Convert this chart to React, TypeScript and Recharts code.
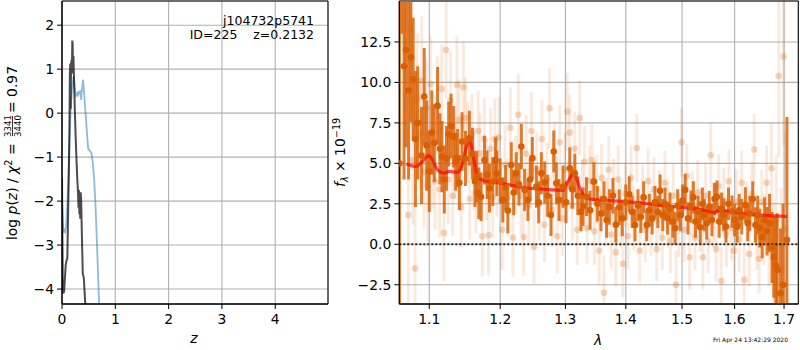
import React from 'react'
import {
  LineChart,
  ComposedChart,
  Line,
  Scatter,
  ErrorBar,
  XAxis,
  YAxis,
  CartesianGrid,
  ReferenceArea,
  ReferenceLine,
} from 'recharts'

const FONT = '"DejaVu Sans", sans-serif'
const ORANGE = '#d95f02'

// ---- left panel: log p(z) ----
const zTicks = [0, 1, 2, 3, 4]
const pTicks = [-4, -3, -2, -1, 0, 1, 2]

const blueZ = [0.0, 0.01, 0.025, 0.04, 0.06, 0.075, 0.09, 0.105, 0.12, 0.135, 0.15, 0.17, 0.195, 0.22, 0.24, 0.26, 0.28, 0.3, 0.315, 0.33, 0.345, 0.36, 0.38, 0.395, 0.41, 0.43, 0.46, 0.49, 0.52, 0.55, 0.575, 0.6, 0.625, 0.66, 0.695, 0.72]
const blueLogP = [-1.95, -2.3, -2.72, -2.65, -2.7, -2.6, -2.3, -1.95, -1.5, -0.9, -0.3, 0.25, 0.65, 0.83, 0.55, 0.4, 0.45, 0.38, 0.5, 0.42, 0.52, 0.3, 0.6, 0.76, 0.55, 0.2, -0.3, -0.8, -0.86, -0.9, -1.1, -1.45, -2.0, -3.1, -4.3, -5.0]

const darkZ = [0.0, 0.008, 0.016, 0.025, 0.04, 0.055, 0.07, 0.085, 0.1, 0.11, 0.12, 0.13, 0.14, 0.148, 0.155, 0.162, 0.17, 0.178, 0.186, 0.193, 0.2, 0.207, 0.215, 0.225, 0.24, 0.255, 0.27, 0.285, 0.3, 0.31, 0.318, 0.326, 0.334, 0.342, 0.35, 0.36, 0.375, 0.39, 0.41, 0.43, 0.45]
const darkLogP = [-1.5, -2.9, -4.0, -4.1, -4.05, -3.75, -3.45, -3.35, -3.3, -2.6, -1.9, -1.2, -0.3, 0.9, 1.12, 0.1, 1.1, 1.2, 0.9, 1.65, 1.6, 1.0, 1.3, 0.8, 0.1, -0.5, -1.0, -1.45, -1.8, -2.15, -1.75, -2.3, -1.85, -2.4, -1.8, -2.0, -2.9, -3.65, -3.75, -4.2, -4.6]

// ---- right panel: spectrum ----
const lamTicks = [1.1, 1.2, 1.3, 1.4, 1.5, 1.6, 1.7]
const fluxTicks = [-2.5, 0, 2.5, 5, 7.5, 10, 12.5]

// faint points
const lightLam = [
  1.072, 1.075, 1.078, 1.081, 1.084, 1.087, 1.09, 1.093, 1.096, 1.098,
  1.102, 1.105, 1.108, 1.111, 1.114, 1.117, 1.12, 1.123, 1.126, 1.129, 1.132, 1.135, 1.138, 1.141, 1.144, 1.147, 1.15, 1.153,
  1.156, 1.159, 1.162, 1.165, 1.168, 1.171, 1.174, 1.177, 1.18, 1.183, 1.186, 1.189, 1.192, 1.195, 1.198,
  1.203, 1.207, 1.211, 1.215, 1.219, 1.223, 1.227, 1.231, 1.235, 1.239, 1.243, 1.247, 1.251, 1.255, 1.259, 1.263, 1.267, 1.271, 1.275, 1.279, 1.283, 1.287, 1.291, 1.295, 1.299,
  1.303, 1.307, 1.311, 1.315, 1.319, 1.323, 1.327, 1.331, 1.335, 1.339, 1.343, 1.347, 1.351, 1.355, 1.359, 1.363, 1.367, 1.371, 1.375, 1.379, 1.383, 1.387, 1.391, 1.395, 1.399,
  1.404, 1.409, 1.414, 1.419, 1.424, 1.429, 1.434, 1.439, 1.444, 1.449, 1.454, 1.459, 1.464, 1.469, 1.474, 1.479, 1.484, 1.489, 1.494, 1.499,
  1.504, 1.509, 1.514, 1.519, 1.524, 1.529, 1.534, 1.539, 1.544, 1.549, 1.554, 1.559, 1.564, 1.569, 1.574, 1.579, 1.584, 1.589, 1.594, 1.599,
  1.604, 1.609, 1.614, 1.619, 1.624, 1.629, 1.634, 1.639, 1.644, 1.649, 1.654, 1.659, 1.664, 1.669, 1.674, 1.679, 1.684, 1.689, 1.694, 1.699, 1.703,
]
const lightFlux = [
  1.8, 13.2, 5.2, -1.5, 9.0, 6.8, 10.1, 4.5, 8.4, 3.6,
  9.9, 5.2, 3.9, 8.6, 3.4, 9.6, 0.7, 12.0, 4.0, 8.9, 3.0, 5.3, 9.85, 7.7, 2.3, 9.7, 7.8, 6.3,
  2.8, 6.8, 4.6, 3.2, 7.0, 5.6, 0.5, 6.5, 4.0, 0.55, 5.9, 2.9, 6.5, 4.2, 6.6,
  0.9, 4.9, 2.9, 7.2, 0.4, 4.3, 8.0, 3.0, 0.45, 5.6, 2.4, 7.0, -0.15, 4.6, 2.5, 6.5, 1.2, 4.0, 8.4, 2.1, 5.3, 0.5, 6.3, 1.6, 4.6,
  8.2, 6.9, 2.4, 5.9, 0.9, 7.8, 3.0, 5.1, 1.0, 3.9, 5.2, 0.8, 3.4, -0.4, 4.1, -3.0, 2.0, 4.6, 0.6, 3.2, -0.5, 4.0, 1.8, -1.2, 3.1,
  0.5, 4.1, 1.6, 5.95, -0.4, 2.9, 0.9, 3.9, 1.3, 3.4, -0.3, 2.6, 0.4, 3.8, 1.8, 0.2, 3.0, -2.5, 1.2, 6.3,
  0.9, 4.2, -0.8, 2.5, 0.4, 3.2, 1.5, -0.8, 3.0, 0.2, 5.5, 1.8, -0.3, 3.6, -2.27, 2.7, 0.6, 3.9, 1.0, -0.4,
  2.6, 0.3, 3.8, -2.2, 1.9, -0.6, 3.1, 5.85, 0.4, -0.9, 2.6, 0.9, 3.8, -0.2, 4.7, -0.6, 1.5, 10.4, -1.5, 11.6, 0.9,
]
const lightErr = [
  5.5, 5, 4, 4, 4, 3.5, 4, 3.5, 3, 3.5,
  3, 3, 3, 3, 3, 2.8, 3, 3, 2.8, 3, 2.5, 2.5, 3, 2.5, 2.5, 2.8, 2.5, 2.5,
  2.5, 2.5, 2.5, 2.5, 2.5, 2.5, 2.5, 2.5, 2.5, 2.5, 2.5, 2.5, 2.5, 2.5, 2.5,
  2.5, 2.5, 2.4, 2.5, 2.4, 2.4, 2.5, 2.4, 2.4, 2.4, 2.3, 2.4, 2.3, 2.3, 2.3, 2.4, 2.3, 2.3, 2.5, 2.3, 2.3, 2.3, 2.3, 2.3, 2.3,
  2.4, 2.3, 2.2, 2.3, 2.2, 2.3, 2.2, 2.2, 2.2, 2.2, 2.2, 2.1, 2.1, 2.1, 2.1, 2.3, 2.1, 2.1, 2.1, 2.1, 2.1, 2.1, 2.0, 2.1, 2.0,
  2.0, 2.0, 2.0, 2.1, 2.0, 2.0, 2.0, 2.0, 2.0, 2.0, 2.0, 2.0, 2.0, 2.0, 2.0, 2.0, 2.0, 2.1, 2.0, 2.1,
  2.0, 2.0, 2.0, 2.0, 2.0, 2.0, 2.0, 2.0, 2.0, 2.0, 2.0, 2.0, 2.0, 2.0, 2.1, 2.0, 2.0, 2.0, 2.0, 2.0,
  2.0, 2.0, 2.0, 2.1, 2.0, 2.0, 2.0, 2.2, 2.0, 2.1, 2.0, 2.2, 2.3, 2.4, 2.8, 3.2, 4, 5, 5, 5.5, 6,
]

// binned points
const darkLam = [
  1.0605, 1.0635, 1.0665, 1.069, 1.0725, 1.0755, 1.0785, 1.0815, 1.0845, 1.0896, 1.0932, 1.0965,
  1.1, 1.1035, 1.1068, 1.1113, 1.1145, 1.1173, 1.1205, 1.1235, 1.1265, 1.1298, 1.1334, 1.1362, 1.139, 1.1414, 1.1452, 1.15, 1.1555,
  1.16, 1.1635, 1.166, 1.1689, 1.1723, 1.1771, 1.181, 1.1844, 1.1892, 1.1932, 1.1951,
  1.2, 1.204, 1.208, 1.2114, 1.2165, 1.22, 1.224, 1.228, 1.2316, 1.2365, 1.2416, 1.245, 1.2483, 1.2545, 1.258, 1.2622, 1.2674, 1.272, 1.2772, 1.2815, 1.2857, 1.2899, 1.2962,
  1.301, 1.307, 1.311, 1.3151, 1.32, 1.325, 1.3286, 1.3341, 1.34, 1.3462, 1.352, 1.358, 1.363, 1.3674, 1.372, 1.378, 1.383, 1.3888, 1.394,
  1.4, 1.406, 1.411, 1.4159, 1.421, 1.426, 1.431, 1.4365, 1.441, 1.446, 1.451, 1.456, 1.4602, 1.465, 1.469, 1.4734, 1.478, 1.483, 1.4874, 1.492, 1.497,
  1.501, 1.5058, 1.511, 1.5164, 1.521, 1.525, 1.53, 1.5339, 1.538, 1.5415, 1.546, 1.551, 1.556, 1.561, 1.5658, 1.57, 1.5745, 1.5786, 1.583, 1.588, 1.595,
  1.6, 1.6048, 1.609, 1.614, 1.6213, 1.626, 1.63, 1.636, 1.6414, 1.646, 1.65, 1.655, 1.66, 1.665, 1.67, 1.675, 1.6788, 1.683, 1.6858, 1.6927, 1.698, 1.706,
]
const darkFlux = [
  5, 17, 11, 12, 9.5, 11.56, 10.2, 6.5, 7.5, 5.48, 9.13, 6.1,
  4.5, 6.9, 6.25, 8.55, 5.9, 5.42, 4.0, 5.3, 6.8, 7.3, 6.65, 5.1, 5.32, 3.8, 6.35, 5.3, 6.55,
  5.6, 3.9, 4.18, 3.15, 2.94, 5.2, 4.3, 3.46, 3.87, 5.2, 4.39,
  3.9, 2.74, 3.5, 2.08, 4.9, 3.2, 4.39, 3.7, 6.04, 3.36, 2.74, 4.0, 5.32, 3.56, 2.6, 4.39, 3.81, 3.0, 1.81, 5.73, 3.77, 2.74, 3.56,
  2.6, 4.7, 3.4, 4.39, 3.0, 2.0, 2.33, 2.94, 2.1, 3.87, 2.5, 1.9, 2.8, 1.5, 2.3, 3.0, 1.2, 2.29, 1.6,
  2.6, 3.09, 2.0, 1.19, 2.4, 1.7, 2.9, 1.19, 2.1, 1.6, 2.6, 2.0, 3.31, 1.8, 2.5, 1.61, 2.2, 1.4, 0.99, 2.4, 1.8,
  2.7, 3.36, 1.6, 2.33, 2.9, 1.4, 2.0, 1.05, 2.5, 1.81, 1.3, 2.3, 1.5, 2.8, 2.94, 1.4, 2.2, 1.81, 1.1, 2.5, 2.02,
  1.5, 1.09, 2.1, 1.7, 2.43, 1.3, 1.9, 2.8, 1.19, 1.8, 1.0, 0.43, 1.5, 0.8, 1.3, -0.2, -0.8, -1.3, -1.59, -3.03, -2.5, 0.27,
]
const darkErr = [
  20, 4, 7, 6, 5.5, 4, 3.8, 4.2, 3.5, 3, 3, 2.8,
  2.5, 2.6, 2.4, 2.4, 2.2, 2.2, 2.1, 2.0, 2.0, 2.0, 1.9, 1.8, 1.8, 1.7, 1.8, 1.7, 1.7,
  1.6, 1.6, 1.6, 1.6, 1.5, 1.5, 1.5, 1.5, 1.5, 1.4, 1.4,
  1.4, 1.4, 1.4, 1.4, 1.4, 1.4, 1.3, 1.3, 1.4, 1.3, 1.3, 1.3, 1.3, 1.3, 1.3, 1.3, 1.3, 1.3, 1.3, 1.3, 1.3, 1.3, 1.3,
  1.3, 1.3, 1.2, 1.2, 1.2, 1.2, 1.2, 1.2, 1.2, 1.2, 1.1, 1.1, 1.1, 1.1, 1.1, 1.1, 1.1, 1.1, 1.1,
  1.1, 1.1, 1.0, 1.0, 1.0, 1.0, 1.0, 1.0, 1.0, 1.0, 1.0, 1.0, 1.0, 1.0, 1.0, 1.0, 1.0, 1.0, 1.0, 1.0, 1.0,
  1.0, 1.0, 1.0, 1.0, 1.0, 1.0, 1.0, 1.0, 1.0, 1.0, 1.0, 1.0, 1.0, 1.0, 1.0, 1.0, 1.0, 1.0, 1.0, 1.0, 1.0,
  1.0, 1.0, 1.0, 1.1, 1.1, 1.1, 1.1, 1.1, 1.1, 1.2, 1.2, 1.3, 1.4, 1.5, 1.8, 2.2, 2.5, 3, 3.5, 4, 5, 7.6,
]

// model spectrum
const modelLam = [1.0697, 1.0821, 1.091, 1.0991, 1.1045, 1.1113, 1.1204, 1.1274, 1.139, 1.1459, 1.1515, 1.1562, 1.1609, 1.1671, 1.1767, 1.1937, 1.2134, 1.2335, 1.2645, 1.296, 1.3041, 1.3138, 1.3231, 1.3341, 1.3509, 1.4029, 1.4682, 1.5303, 1.5625, 1.569, 1.6289, 1.706]
const modelFlux = [4.96, 4.81, 5.12, 5.48, 5.2, 4.6, 4.4, 4.5, 4.44, 5.0, 6.05, 6.36, 5.43, 4.19, 3.92, 3.82, 3.68, 3.51, 3.41, 3.33, 3.88, 4.4, 3.47, 2.85, 2.75, 2.64, 2.38, 2.17, 1.96, 2.09, 1.86, 1.71]

const blueData = blueZ.map((z, i) => ({ z, v: blueLogP[i] }))
const darkPz = darkZ.map((z, i) => ({ z, v: darkLogP[i] }))
const lightData = lightLam.map((lam, i) => ({ lam, flux: lightFlux[i], err: lightErr[i] }))
const binData = darkLam.map((lam, i) => ({ lam, flux: darkFlux[i], err: darkErr[i] }))
const modelData = modelLam.map((lam, i) => ({ lam, flux: modelFlux[i] }))

const tickStyle = { fill: '#000', fontSize: 13.9, fontFamily: FONT }
const minus = (s: string) => s.replace('-', '\u2212')

const lightDot = (p: any) => <circle cx={p.cx} cy={p.cy} r={3.3} fill={ORANGE} fillOpacity={0.25} />
const darkDot = (p: any) => <circle cx={p.cx} cy={p.cy} r={3.3} fill={ORANGE} fillOpacity={1} />

// clip the spectrum marks to the plot area (chart-local coords)
const clipCss = `
.spec-wrap .recharts-scatter,
.spec-wrap .recharts-errorBars,
.spec-wrap .recharts-errorBar { clip-path: url(#specClip); }
`

function PzPanel() {
  const xd: [number, number] = [0, 4.99]
  const yd: [number, number] = [-4.34, 2.55]
  return (
    <LineChart width={340} height={350} margin={{ top: 1, right: 12, bottom: 0, left: 0 }}>
      <CartesianGrid stroke="#b0b0b0" strokeWidth={1.1} />
      <XAxis
        type="number"
        dataKey="z"
        domain={xd}
        ticks={zTicks}
        interval={0}
        allowDataOverflow
        height={46}
        tickSize={5}
        tickMargin={5}
        stroke="#000"
        tick={tickStyle}
      />
      <YAxis
        type="number"
        domain={yd}
        ticks={pTicks}
        interval={0}
        allowDataOverflow
        width={62}
        tickSize={5}
        tickMargin={3}
        stroke="#000"
        tick={tickStyle}
        tickFormatter={(v) => minus(String(v))}
      />
      <Line data={blueData} dataKey="v" type="linear" stroke="#1f77b4" strokeOpacity={0.5} strokeWidth={1.8} dot={false} isAnimationActive={false} />
      <Line data={darkPz} dataKey="v" type="linear" stroke="#000" strokeOpacity={0.7} strokeWidth={2} dot={false} isAnimationActive={false} />
      <ReferenceArea x1={xd[0]} x2={xd[1]} y1={yd[0]} y2={yd[1]} fill="none" stroke="#000" strokeWidth={1} />
    </LineChart>
  )
}

function SpecPanel() {
  const xd: [number, number] = [1.0603, 1.73]
  const yd: [number, number] = [-3.69, 15.03]
  return (
    <ComposedChart width={470} height={350} margin={{ top: 1, right: 1.7, bottom: 0, left: 0 }}>
      <CartesianGrid stroke="#b0b0b0" strokeWidth={1.1} />
      <XAxis
        type="number"
        dataKey="lam"
        scale="log"
        domain={xd}
        ticks={lamTicks}
        interval={0}
        allowDataOverflow
        height={46}
        tickSize={5}
        tickMargin={5}
        stroke="#000"
        tick={tickStyle}
        tickFormatter={(v) => v.toFixed(1)}
      />
      <YAxis
        type="number"
        dataKey="flux"
        domain={yd}
        ticks={fluxTicks}
        interval={0}
        allowDataOverflow
        width={69.3}
        tickSize={5}
        tickMargin={3}
        stroke="#000"
        tick={tickStyle}
        tickFormatter={(v) => minus(v.toFixed(1))}
      />
      <Scatter data={lightData} dataKey="flux" shape={lightDot} isAnimationActive={false}>
        <ErrorBar dataKey="err" direction="y" width={0} stroke={ORANGE} strokeOpacity={0.13} strokeWidth={3} isAnimationActive={false} />
      </Scatter>
      <Scatter data={binData} dataKey="flux" shape={darkDot} isAnimationActive={false}>
        <ErrorBar dataKey="err" direction="y" width={0} stroke={ORANGE} strokeOpacity={0.82} strokeWidth={3} isAnimationActive={false} />
      </Scatter>
      <Line data={modelData} dataKey="flux" type="monotone" stroke="#ff0000" strokeOpacity={0.7} strokeWidth={3.2} dot={false} isAnimationActive={false} />
      <ReferenceLine y={0} stroke="#000" strokeOpacity={0.8} strokeWidth={2} strokeDasharray="2 2" />
      <ReferenceArea x1={xd[0]} x2={xd[1]} y1={yd[0]} y2={yd[1]} fill="none" stroke="#000" strokeWidth={1} />
    </ComposedChart>
  )
}

export default function App() {
  return (
    <div style={{ position: 'absolute', left: 0, top: 0, width: 800, height: 350, background: '#fff' }}>
      <style>{clipCss}</style>
      <svg width={0} height={0} style={{ position: 'absolute' }}>
        <defs>
          <clipPath id="specClip" clipPathUnits="userSpaceOnUse">
            <rect x={69.3} y={1} width={399} height={303} />
          </clipPath>
        </defs>
      </svg>
      <div style={{ position: 'absolute', left: 0, top: 0 }}>
        <PzPanel />
      </div>
      <div className="spec-wrap" style={{ position: 'absolute', left: 330, top: 0 }}>
        <SpecPanel />
      </div>
      <svg width={800} height={350} style={{ position: 'absolute', left: 0, top: 0, pointerEvents: 'none' }} fontFamily={FONT}>
        {/* p(z) labels */}
        <text x={314} y={25} fontSize={12.5} textAnchor="end">j104732p5741</text>
        <text x={314} y={39.3} fontSize={12.5} textAnchor="end" style={{ whiteSpace: 'pre' }}>ID=225    z=0.2132</text>
        <text x={194} y={343} fontSize={13.9} textAnchor="middle" fontStyle="italic">z</text>
        <g transform="translate(17,240) rotate(-90)">
          <text x={0} y={0} fontSize={13.9}>
            log <tspan fontStyle="italic">p</tspan>(<tspan fontStyle="italic">z</tspan>) / <tspan fontStyle="italic">χ</tspan>
            <tspan fontSize={9.7} dy={-5}>2</tspan>
            <tspan dy={5}> =</tspan>
          </text>
          <text x={114} y={-6.5} fontSize={8.6} textAnchor="middle">3341</text>
          <line x1={104} x2={124} y1={-4.5} y2={-4.5} stroke="#000" strokeWidth={0.8} />
          <text x={114} y={3.5} fontSize={8.6} textAnchor="middle">3440</text>
          <text x={127} y={0} fontSize={13.9}>= 0.97</text>
        </g>
        {/* spectrum labels */}
        <text x={598} y={345} fontSize={13.9} textAnchor="middle" fontStyle="italic">λ</text>
        <g transform="translate(345,187) rotate(-90)">
          <text x={0} y={0} fontSize={13.9}>
            <tspan fontStyle="italic">f</tspan>
            <tspan fontSize={9.7} fontStyle="italic" dy={2.5}>λ</tspan>
            <tspan dy={-2.5}> × 10</tspan>
            <tspan fontSize={9.7} dy={-5.5}>−19</tspan>
          </text>
        </g>
        <text x={788} y={342} fontSize={6} textAnchor="end">Fri Apr 24 13:42:29 2020</text>
      </svg>
    </div>
  )
}
